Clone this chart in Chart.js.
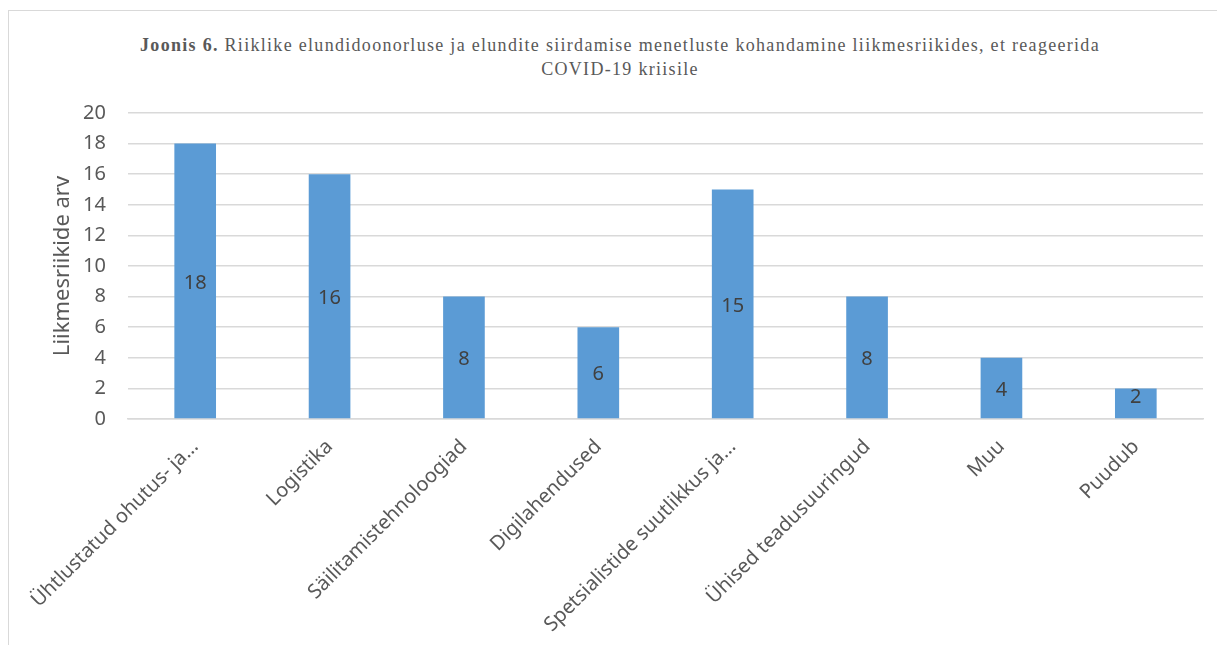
<!DOCTYPE html>
<html>
<head>
<meta charset="utf-8">
<script src="https://cdn.jsdelivr.net/npm/chart.js@4"></script>
<style>
  html, body { margin: 0; padding: 0; background: #fff; }
  #wrap { position: relative; width: 1217px; height: 645px; overflow: hidden; }
  #frame { position: absolute; left: 8px; top: 10px; width: 1300px; height: 700px; border: 1px solid #d9d9d9; box-sizing: border-box; }
  #title { position: absolute; left: 0; width: 1240px; top: 33px; text-align: center;
    font-family: "Liberation Serif", serif; font-size: 18px; line-height: 24px; color: #595959; letter-spacing: 1.3px; }
  #title b { font-weight: bold; }
  canvas { position: absolute; left: 0; top: 0; }
</style>
</head>
<body>
<div id="wrap">
  <div id="frame"></div>
  <div id="title"><b>Joonis 6.</b> Riiklike elundidoonorluse ja elundite siirdamise menetluste kohandamine liikmesriikides, et reageerida<br>COVID-19 kriisile</div>
  <canvas id="chart" width="1217" height="645"></canvas>
</div>
<script>
// categories and values
const categories = [
  'Ühtlustatud ohutus- ja…',
  'Logistika',
  'Säilitamistehnoloogiad',
  'Digilahendused',
  'Spetsialistide suutlikkus ja…',
  'Ühised teadusuuringud',
  'Muu',
  'Puudub'
];
const values = [18, 16, 8, 6, 15, 8, 4, 2];
const yTicks = [0, 2, 4, 6, 8, 10, 12, 14, 16, 18, 20];
const yTitle = 'Liikmesriikide arv';

const FONT = '"Noto Sans", sans-serif';
const GREY = '#595959';

// values written in the middle of each bar
const barLabels = {
  id: 'barLabels',
  afterDatasetsDraw(chart) {
    const { ctx } = chart;
    const meta = chart.getDatasetMeta(0);
    ctx.save();
    ctx.font = '20px ' + FONT;
    ctx.fillStyle = '#404040';
    ctx.textAlign = 'center';
    ctx.textBaseline = 'middle';
    meta.data.forEach((bar, i) => {
      // short bars: Excel nudges the label up a little
      const mid = (bar.y + bar.base) / 2;
      const y = (bar.base - bar.y) < 40 ? mid - 6 : mid + 2;
      ctx.fillText(String(values[i]), bar.x, y);
    });
    ctx.restore();
  }
};

new Chart(document.getElementById('chart'), {
  type: 'bar',
  data: {
    labels: categories,
    datasets: [{
      data: values,
      backgroundColor: '#5b9bd5',
      borderWidth: 0,
      categoryPercentage: 1,
      barPercentage: 0.31
    }]
  },
  options: {
    responsive: false,
    animation: false,
    layout: { padding: { top: 113, right: 14, left: 0, bottom: 0 } },
    plugins: { legend: { display: false }, tooltip: { enabled: false }, title: { display: false } },
    scales: {
      y: {
        min: 0,
        max: 20,
        afterBuildTicks(scale) { scale.ticks = yTicks.map(v => ({ value: v })); },
        afterFit(scale) { scale.width = 128; },
        grid: { color: '#d9d9d9', lineWidth: 1.5, drawTicks: false },
        border: { display: false },
        ticks: { color: GREY, font: { family: FONT, size: 20 }, padding: 22 },
        title: { display: true, text: yTitle, color: GREY, font: { family: FONT, size: 22 }, padding: { top: 50, bottom: 0 } }
      },
      x: {
        afterFit(scale) { scale.height = 226; },
        grid: { display: false, drawTicks: false },
        border: { display: true, color: '#d9d9d9', width: 1.5 },
        ticks: { color: GREY, font: { family: FONT, size: 20 }, maxRotation: 45, minRotation: 45, padding: 16, autoSkip: false }
      }
    }
  },
  plugins: [barLabels]
});
</script>
</body>
</html>
